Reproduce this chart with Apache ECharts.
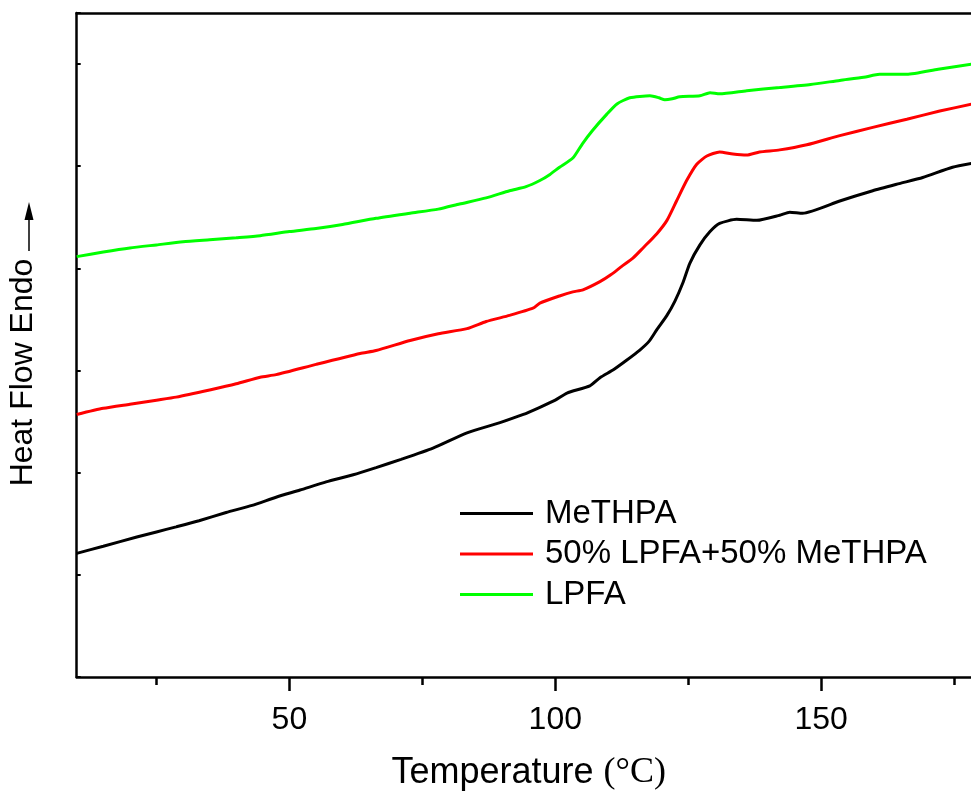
<!DOCTYPE html>
<html>
<head>
<meta charset="utf-8">
<script src="https://cdn.jsdelivr.net/npm/echarts@6/dist/echarts.min.js"></script>
<style>
  html, body { margin: 0; padding: 0; background: #fff; }
  #chart { width: 971px; height: 794px; }
</style>
</head>
<body>
<div id="chart"></div>
<script>
// DSC heat-flow curves: [temperature (°C), heat flow (a.u.)]
const seriesNames = ['MeTHPA', '50% LPFA+50% MeTHPA', 'LPFA'];
const seriesColors = ['#000000', '#ff0000', '#00ff00'];

const methpa = [
  [10,1.21],[15,1.28],[21.3,1.37],[25,1.42],[28.7,1.47],[33,1.53],[38.1,1.61],[43,1.68],
  [47.5,1.76],[52,1.83],[56.9,1.91],[62,1.98],[66.3,2.05],[71,2.13],[77,2.24],[83.4,2.39],
  [89.6,2.49],[94,2.57],[97.1,2.64],[100,2.71],[102.2,2.78],[106.5,2.85],[108.4,2.93],
  [111,3.01],[113.4,3.10],[115.9,3.20],[117.7,3.29],[119.1,3.40],[121,3.54],[122.5,3.68],
  [124,3.86],[125.3,4.05],[127.2,4.23],[129.1,4.36],[130.9,4.44],[134.1,4.48],[137.9,4.47],
  [142.2,4.52],[144.1,4.55],[146.5,4.54],[153.5,4.66],[159.7,4.76],[164.7,4.83],[169.1,4.89],
  [174.7,4.99],[178.5,5.03]
];

const blend = [
  [10,2.57],[15,2.63],[20,2.67],[25,2.71],[28.7,2.74],[35,2.81],[40,2.87],[44.5,2.935],
  [47.5,2.96],[55,3.06],[63.3,3.167],[66.3,3.196],[72.7,3.294],[78,3.36],[83.4,3.41],
  [87,3.48],[91.4,3.54],[95.8,3.61],[97.1,3.66],[100.8,3.73],[103.3,3.77],[105.2,3.79],
  [108.4,3.87],[110.5,3.94],[112.5,4.02],[114.6,4.10],[116.5,4.20],[119.1,4.34],[121,4.47],
  [122.8,4.66],[124.7,4.86],[126.6,5.02],[128.5,5.10],[130.9,5.14],[133.4,5.12],[136,5.11],
  [138.4,5.14],[142.2,5.16],[147.3,5.21],[153.5,5.30],[159.7,5.38],[166.1,5.46],[172.3,5.54],
  [178.5,5.61]
];

const lpfa = [
  [10,4.115],[15,4.16],[20,4.20],[25,4.23],[30,4.26],[35,4.28],[40,4.30],[44.5,4.32],
  [50,4.36],[55,4.39],[60,4.43],[66.3,4.49],[72.7,4.54],[78,4.58],[82,4.63],[87,4.69],
  [91.4,4.76],[94.5,4.80],[97.1,4.86],[99,4.92],[100.8,4.99],[103.3,5.08],[105.1,5.22],
  [107,5.35],[109.7,5.51],[111.6,5.61],[114,5.67],[117.8,5.69],[119.5,5.67],[120.6,5.65],
  [122,5.66],[123.4,5.68],[127.2,5.69],[129.1,5.72],[130.9,5.71],[136,5.74],[142.2,5.77],
  [148,5.80],[153.5,5.84],[158,5.87],[161,5.90],[166.1,5.90],[172,5.95],[178.5,6.00]
];

const xMajorTicks = [50, 100, 150];
const xMinorTicks = [25, 75, 125, 175];
const xRange = [10, 180];
const yRange = [0, 6.5];

const FONT = '"Liberation Sans", Arial, sans-serif';
const AXIS_COLOR = '#000';
const AXIS_W = 2.5;

const chart = echarts.init(document.getElementById('chart'), null, { renderer: 'canvas' });

const lineSeries = [methpa, blend, lpfa].map((d, i) => ({
  name: seriesNames[i],
  type: 'line',
  xAxisIndex: 0,
  yAxisIndex: 0,
  data: d,
  symbol: 'none',
  smooth: 0.2,
  lineStyle: { color: seriesColors[i], width: 3 },
  itemStyle: { color: seriesColors[i] },
  z: 3 - i
}));

chart.setOption({
  animation: false,
  backgroundColor: '#fff',
  // plot box runs a little past the right edge of the canvas
  grid: { left: 76.7, top: 13, width: 904, height: 664, containLabel: false, outerBoundsMode: 'none' },
  legend: {
    orient: 'vertical',
    left: 460,
    top: 497,
    padding: 0,
    itemWidth: 73,
    itemHeight: 3,
    itemGap: 7.5,
    icon: 'rect',
    data: seriesNames,
    textStyle: { fontFamily: FONT, fontSize: 33, color: '#000', padding: [0, 0, 0, 7] },
    selectedMode: false
  },
  xAxis: [
    {
      type: 'value', position: 'bottom', min: xRange[0], max: xRange[1],
      axisLine: { show: true, onZero: false, lineStyle: { color: AXIS_COLOR, width: AXIS_W } },
      axisTick: { show: true, inside: false, length: 14, customValues: xMajorTicks,
                  lineStyle: { color: AXIS_COLOR, width: 2.5 } },
      axisLabel: { show: true, customValues: xMajorTicks, margin: 27,
                   fontFamily: FONT, fontSize: 32, color: '#000' },
      splitLine: { show: false },
      name: '{a|Temperature }{b|(°C)}',
      nameLocation: 'middle',
      nameGap: 78,
      nameTextStyle: {
        rich: {
          a: { fontFamily: FONT, fontSize: 36, color: '#000' },
          b: { fontFamily: '"Liberation Serif", "Times New Roman", serif', fontSize: 36, color: '#000' }
        }
      }
    },
    {
      type: 'value', position: 'bottom', min: xRange[0], max: xRange[1],
      axisLine: { show: false },
      axisTick: { show: true, inside: false, length: 8, customValues: xMinorTicks,
                  lineStyle: { color: AXIS_COLOR, width: 2.5 } },
      axisLabel: { show: false },
      splitLine: { show: false }
    },
    {
      type: 'value', position: 'top', min: xRange[0], max: xRange[1],
      axisLine: { show: true, onZero: false, lineStyle: { color: AXIS_COLOR, width: AXIS_W } },
      axisTick: { show: false }, axisLabel: { show: false }, splitLine: { show: false }
    }
  ],
  yAxis: [
    {
      type: 'value', position: 'left', min: yRange[0], max: yRange[1], interval: 1,
      axisLine: { show: true, onZero: false, lineStyle: { color: AXIS_COLOR, width: AXIS_W } },
      axisTick: { show: true, inside: true, length: 4, lineStyle: { color: AXIS_COLOR, width: 2 } },
      axisLabel: { show: false },
      splitLine: { show: false },
      name: '{t|Heat Flow Endo}{s|}',
      nameLocation: 'middle',
      nameRotate: 90,
      nameGap: 38,
      nameTextStyle: {
        rich: {
          t: { fontFamily: FONT, fontSize: 32, color: '#000' },
          s: { width: 55 }
        }
      }
    },
    {
      type: 'value', position: 'right', min: yRange[0], max: yRange[1],
      axisLine: { show: true, onZero: false, lineStyle: { color: AXIS_COLOR, width: AXIS_W } },
      axisTick: { show: false }, axisLabel: { show: false }, splitLine: { show: false }
    }
  ],
  series: lineSeries
});

// Endotherm direction arrow next to the y-axis title
chart.setOption({
  graphic: [
    {
      type: 'line', z: 10,
      shape: { x1: 29, y1: 251, x2: 29, y2: 215 },
      style: { stroke: '#000', lineWidth: 1.5 }
    },
    {
      type: 'polygon', z: 10,
      shape: { points: [[29, 202], [24.5, 220], [33.5, 220]] },
      style: { fill: '#000' }
    }
  ]
});
</script>
</body>
</html>
